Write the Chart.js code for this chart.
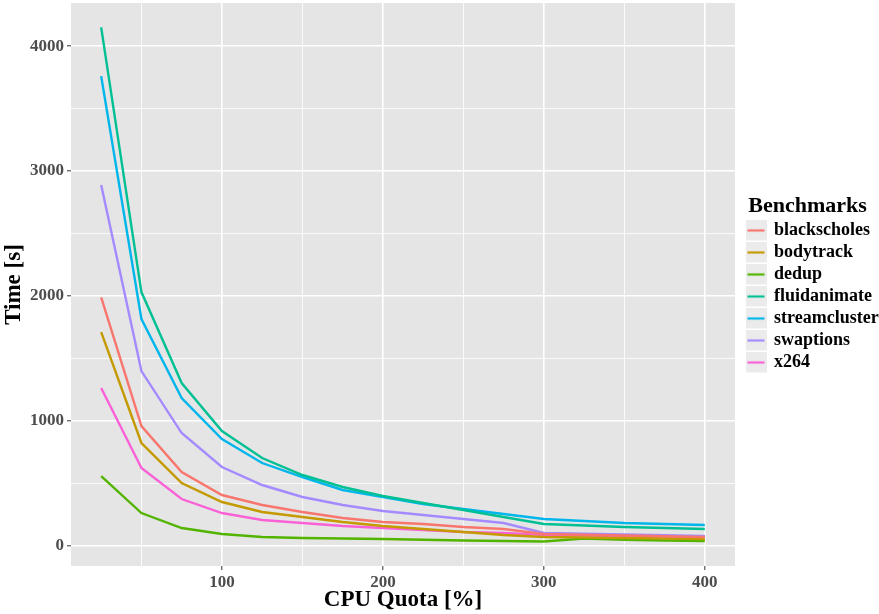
<!DOCTYPE html>
<html>
<head>
<meta charset="utf-8">
<script src="https://cdn.jsdelivr.net/npm/chart.js"></script>
<style>
  html, body { margin: 0; padding: 0; background: #fff; }
  #wrap { width: 879px; height: 614px; }
</style>
</head>
<body>
<div id="wrap"><canvas id="chart"></canvas></div>
<script>
// CPU quota [%] for every measurement
var quota = [25, 50, 75, 100, 125, 150, 175, 200, 225, 250, 275, 300, 325, 350, 375, 400];

var blackscholes = [1990, 960, 592, 408, 328, 272, 224, 192, 176, 152, 136, 96, 90, 84, 78, 72];
var bodytrack    = [1712, 824, 504, 352, 272, 232, 192, 160, 136, 112, 88, 72, 68, 64, 60, 56];
var dedup        = [560, 264, 144, 96, 72, 64, 60, 56, 50, 44, 40, 36, 60, 50, 44, 40];
var fluidanimate = [4150, 2032, 1304, 920, 704, 568, 472, 400, 344, 288, 232, 176, 164, 152, 144, 136];
var streamcluster = [3760, 1816, 1184, 856, 664, 552, 448, 392, 336, 296, 256, 216, 200, 184, 176, 168];
var swaptions    = [2888, 1400, 904, 632, 488, 392, 328, 280, 248, 216, 184, 104, 98, 92, 86, 80];
var x264         = [1264, 624, 376, 264, 208, 184, 160, 144, 128, 112, 104, 88, 84, 80, 76, 72];

var names = ["blackscholes", "bodytrack", "dedup", "fluidanimate", "streamcluster", "swaptions", "x264"];
var series = [blackscholes, bodytrack, dedup, fluidanimate, streamcluster, swaptions, x264];
var colors = ["#F8766D", "#C49A00", "#53B400", "#00C094", "#00B6EB", "#A58AFF", "#FB61D7"];

var xTicks = [50, 100, 150, 200, 250, 300, 350, 400];
var xTickLabels = [100, 200, 300, 400];
var yTicks = [0, 500, 1000, 1500, 2000, 2500, 3000, 3500, 4000];
var yTickLabels = [0, 1000, 2000, 3000, 4000];

// legend key: grey square with a coloured line
function legendKey(color) {
    var c = document.createElement("canvas");
    c.width = 21;
    c.height = 22;
    var g = c.getContext("2d");
    g.fillStyle = "#ebebeb";
    g.fillRect(0, 0, 21, 21);
    g.strokeStyle = color;
    g.lineWidth = 2.2;
    g.beginPath();
    g.moveTo(2, 11);
    g.lineTo(19, 11);
    g.stroke();
    return c;
}

var datasets = names.map(function (n, i) {
    return {
        label: n,
        data: quota.map(function (q, j) { return { x: q, y: series[i][j] }; }),
        borderColor: colors[i],
        backgroundColor: colors[i],
        borderWidth: 2.4,
        pointRadius: 0,
        pointStyle: legendKey(colors[i]),
        fill: false,
        tension: 0
    };
});

var bgPlugin = {
    id: "panelBg",
    beforeDraw: function (chart) {
        var a = chart.chartArea;
        var ctx = chart.ctx;
        ctx.save();
        ctx.fillStyle = "#e5e5e5";
        ctx.fillRect(a.left, a.top, a.right - a.left, a.bottom - a.top);
        ctx.restore();
    }
};

function narrowTitle(fn) {
    return function () {
        var w = this.width;
        this.width = 129;
        fn.apply(this, arguments);
        this.width = w;
    };
}

// keep the legend column a fixed width, like the ggplot guide box
var legendWidthPlugin = {
    id: "legendWidth",
    beforeUpdate: function (chart) {
        var lg = chart.legend;
        if (lg && !lg._fixedWidth) {
            var fit = lg.fit;
            lg.fit = function () {
                fit.call(this);
                this.width = 144;
            };
            // centre the title over the keys and labels only
            if (typeof lg.drawTitle === "function") lg.drawTitle = narrowTitle(lg.drawTitle);
            if (typeof lg._drawTitle === "function") lg._drawTitle = narrowTitle(lg._drawTitle);
            lg._fixedWidth = true;
        }
    },
    afterLayout: function (chart) {
        var lg = chart.legend;
        if (!lg) return;
        lg.left += 8;
        lg.right += 8;
        lg.bottom -= 46;
    }
};

var serif = "'Liberation Serif', 'Times New Roman', serif";

function isMajor(list, v) {
    return list.indexOf(v) !== -1;
}

var ctx = document.getElementById("chart").getContext("2d");
var chart = new Chart(ctx, {
    type: "line",
    data: { datasets: datasets },
    plugins: [bgPlugin, legendWidthPlugin],
    options: {
        responsive: true,
        maintainAspectRatio: false,
        animation: false,
        layout: { padding: { top: 3, right: 0, left: 0, bottom: 0 } },
        plugins: {
            tooltip: { enabled: false },
            legend: {
                position: "right",
                align: "center",
                title: {
                    display: true,
                    text: "Benchmarks",
                    color: "#000",
                    padding: { top: 0, bottom: 0 },
                    font: { family: serif, size: 22, weight: "bold", lineHeight: 1.0 }
                },
                labels: {
                    usePointStyle: true,
                    color: "#000",
                    padding: 4,
                    font: { family: serif, size: 18, weight: "bold" }
                }
            }
        },
        scales: {
            x: {
                type: "linear",
                min: 6.25,
                max: 418.75,
                border: { display: false },
                afterBuildTicks: function (scale) {
                    scale.ticks = xTicks.map(function (v) { return { value: v }; });
                },
                afterFit: function (scale) {
                    scale.height = 48;
                    scale.paddingLeft = 0;
                    scale.paddingRight = 0;
                },
                grid: {
                    color: "#ffffff",
                    lineWidth: function (c) { return isMajor(xTickLabels, c.tick.value) ? 1.6 : 0.8; },
                    tickColor: function (c) { return isMajor(xTickLabels, c.tick.value) ? "#333333" : "rgba(0,0,0,0)"; },
                    tickLength: 4,
                    tickWidth: 1
                },
                ticks: {
                    autoSkip: false,
                    maxRotation: 0,
                    padding: 2,
                    color: "#4d4d4d",
                    font: { family: serif, size: 17, weight: "bold" },
                    callback: function (v) { return isMajor(xTickLabels, v) ? String(v) : ""; }
                },
                title: {
                    display: true,
                    text: "CPU Quota [%]",
                    color: "#000",
                    padding: { top: 0, bottom: 0 },
                    font: { family: serif, size: 23, weight: "bold" }
                }
            },
            y: {
                type: "linear",
                min: -160,
                max: 4345,
                border: { display: false },
                afterBuildTicks: function (scale) {
                    scale.ticks = yTicks.map(function (v) { return { value: v }; });
                },
                afterFit: function (scale) {
                    scale.width = 71;
                    scale.paddingTop = 0;
                    scale.paddingBottom = 0;
                },
                grid: {
                    color: "#ffffff",
                    lineWidth: function (c) { return isMajor(yTickLabels, c.tick.value) ? 1.6 : 0.8; },
                    tickColor: function (c) { return isMajor(yTickLabels, c.tick.value) ? "#333333" : "rgba(0,0,0,0)"; },
                    tickLength: 4,
                    tickWidth: 1
                },
                ticks: {
                    autoSkip: false,
                    padding: 3,
                    color: "#4d4d4d",
                    font: { family: serif, size: 17, weight: "bold" },
                    callback: function (v) { return isMajor(yTickLabels, v) ? String(v) : ""; }
                },
                title: {
                    display: true,
                    text: "Time [s]",
                    color: "#000",
                    padding: { top: 0, bottom: 2 },
                    font: { family: serif, size: 23, weight: "bold" }
                }
            }
        }
    }
});
</script>
</body>
</html>
